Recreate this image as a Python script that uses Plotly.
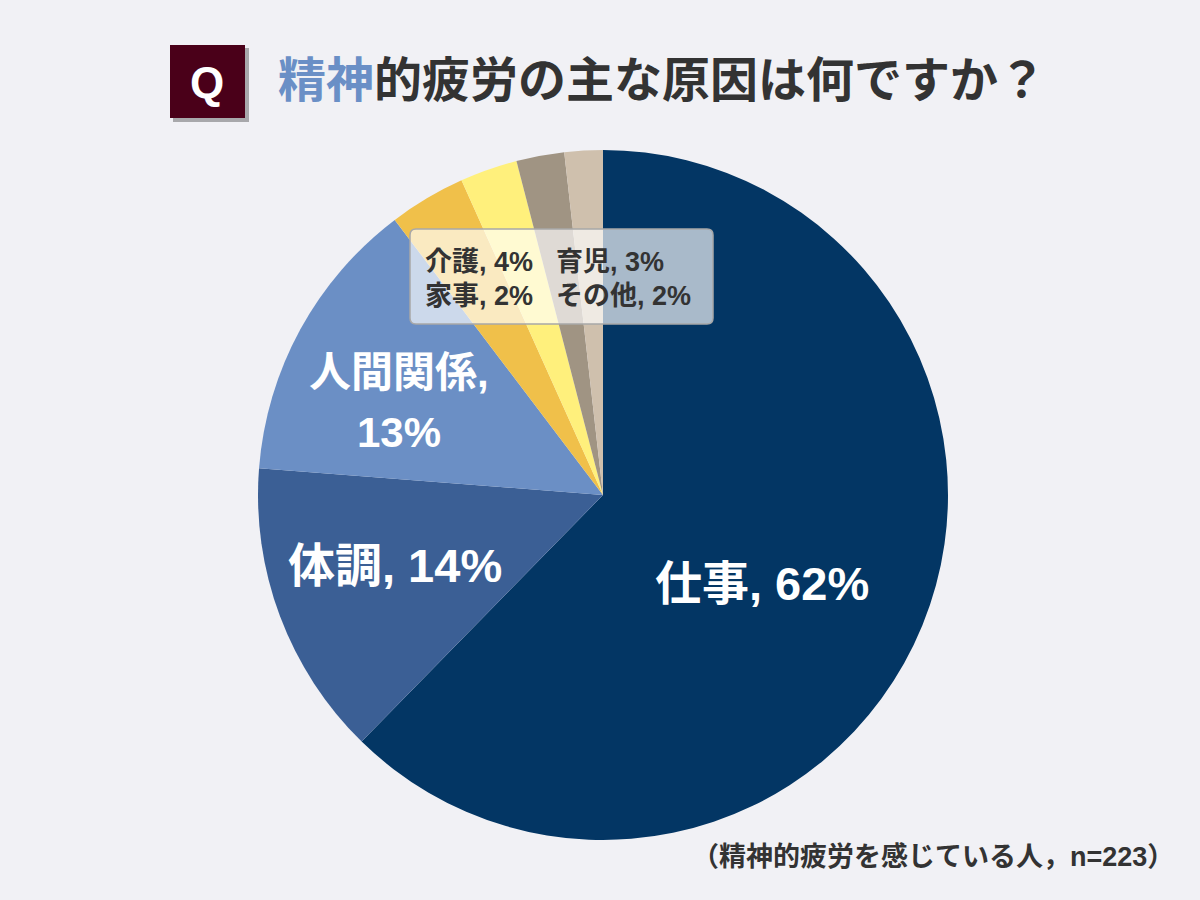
import plotly.graph_objects as go

categories = ["仕事", "体調", "人間関係", "介護", "育児", "家事", "その他"]
values = [139, 31, 30, 8, 6, 5, 4]  # respondents (n=223)
colors = ["#033664", "#3b5f95", "#6b8fc5", "#f0c04a", "#fff07c", "#a09483", "#cfc0ad"]

title_blue = "精神"
title_rest = "的疲労の主な原因は何ですか？"
footnote = "（精神的疲労を感じている人，n=223）"

W, H = 1200, 900
FONT = "Liberation Sans, Arial, Noto Sans CJK JP, sans-serif"


def px(x):
    return x / W


def py(y):
    return 1 - y / H


cx, cy, r = 603, 495, 345

fig = go.Figure()
fig.add_trace(go.Pie(
    labels=categories,
    values=values,
    sort=False,
    direction="clockwise",
    rotation=0,
    marker=dict(colors=colors, line=dict(width=0)),
    textinfo="none",
    hoverinfo="label+percent",
    showlegend=False,
    domain=dict(x=[px(cx - r), px(cx + r)], y=[py(cy + r), py(cy - r)]),
))

total = sum(values)
pct = [f"{round(v * 100 / total)}%" for v in values]

shapes = []
# Q box shadow + box
shapes.append(dict(type="rect", xref="paper", yref="paper",
                   x0=px(173), x1=px(249), y0=py(122), y1=py(48),
                   fillcolor="rgba(0,0,0,0.3)", line=dict(width=0), layer="above"))
shapes.append(dict(type="rect", xref="paper", yref="paper",
                   x0=px(170), x1=px(245), y0=py(118), y1=py(45),
                   fillcolor="#4a0019", line=dict(width=0), layer="above"))

# rounded legend box
bx0, bx1, by0, by1, rr = 410, 713, 229, 324, 6
path = (f"M {px(bx0 + rr)},{py(by0)} L {px(bx1 - rr)},{py(by0)} "
        f"Q {px(bx1)},{py(by0)} {px(bx1)},{py(by0 + rr)} "
        f"L {px(bx1)},{py(by1 - rr)} Q {px(bx1)},{py(by1)} {px(bx1 - rr)},{py(by1)} "
        f"L {px(bx0 + rr)},{py(by1)} Q {px(bx0)},{py(by1)} {px(bx0)},{py(by1 - rr)} "
        f"L {px(bx0)},{py(by0 + rr)} Q {px(bx0)},{py(by0)} {px(bx0 + rr)},{py(by0)} Z")
shapes.append(dict(type="path", xref="paper", yref="paper", path=path,
                   fillcolor="rgba(255,255,255,0.66)", line=dict(color="#a8a8a8", width=1.5),
                   layer="above"))

annotations = []


def ann(x, y, text, size, color, xanchor="center", yanchor="middle"):
    annotations.append(dict(x=px(x), y=py(y), xref="paper", yref="paper",
                            text=text, showarrow=False, xanchor=xanchor, yanchor=yanchor,
                            font=dict(family=FONT, size=size, color=color)))


ann(207, 82, "<b>Q</b>", 44, "white")
ann(276, 80, f"<b><span style='color:#6a8fc6'>{title_blue}</span>{title_rest}</b>", 48, "#333333", xanchor="left")

ann(762, 583, f"<b>{categories[0]}, {pct[0]}</b>", 47, "white")
ann(395, 565, f"<b>{categories[1]}, {pct[1]}</b>", 47, "white")
ann(399, 372, f"<b>{categories[2]},</b>", 42, "white")
ann(399, 433, f"<b>{pct[2]}</b>", 42, "white")

# small categories inside box
ann(423, 262, f"<b>{categories[3]}, {pct[3]}</b>", 27, "#333333", xanchor="left")
ann(554, 262, f"<b>{categories[4]}, {pct[4]}</b>", 27, "#333333", xanchor="left")
ann(423, 296, f"<b>{categories[5]}, {pct[5]}</b>", 27, "#333333", xanchor="left")
ann(554, 296, f"<b>{categories[6]}, {pct[6]}</b>", 27, "#333333", xanchor="left")

ann(1176, 857, f"<b>{footnote}</b>", 27, "#333333", xanchor="right")

fig.update_layout(
    width=W, height=H,
    margin=dict(l=0, r=0, t=0, b=0),
    paper_bgcolor="#f1f1f5",
    plot_bgcolor="#f1f1f5",
    shapes=shapes,
    annotations=annotations,
)

fig.write_html("out.html")
